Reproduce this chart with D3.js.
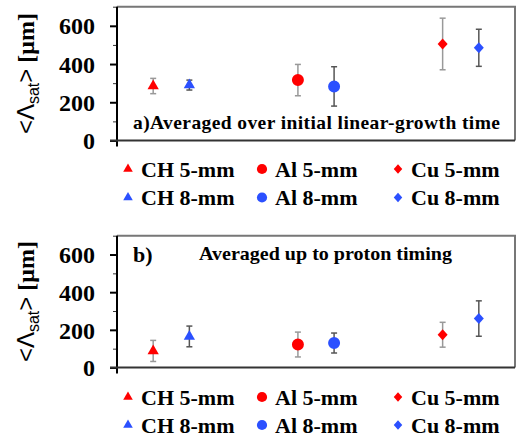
<!DOCTYPE html>
<html><head><meta charset="utf-8">
<script src="https://cdn.jsdelivr.net/npm/d3@7"></script>
<style>body{margin:0;background:#fff}svg{display:block}text{font-family:"Liberation Serif","Times New Roman",serif;font-weight:bold}</style>
</head><body>
<svg id="c" width="518" height="437"></svg>
<script>
const series = ["CH 5-mm","CH 8-mm","Al 5-mm","Al 8-mm","Cu 5-mm","Cu 8-mm"];
const xPos = [1, 2, 5, 6, 9, 10];
const shapes = ["triangle","triangle","circle","circle","diamond","diamond"];
const colors = ["#ff0000","#2b50ff","#ff0000","#2b50ff","#ff0000","#2b50ff"];
const errColors = ["#999","#555","#999","#555","#999","#555"];
const valuesA = [285, 290, 316, 283, 505, 485];
const errorsA = [40, 26, 82, 103, 135, 97];
const valuesB = [88, 165, 122, 130, 174, 260];
const errorsB = [56, 55, 66, 53, 66, 94];
const yTicks = [0, 200, 400, 600];
const legendOrder = [0, 2, 4, 1, 3, 5];

const svg = d3.select("#c");
const x = d3.scaleLinear().domain([0, 11]).range([117, 515]);

function shapePath(s, k){
  if (s === "triangle") return d3.symbol().type(d3.symbolTriangle).size(55*k*k)();
  if (s === "circle") return d3.symbol().type(d3.symbolCircle).size(113*k*k)();
  const w = 5*k, h = 5.5*k;
  return `M0,${-h}L${w},0L0,${h}L${-w},0Z`;
}

function panel(top, bottom, vals, errs, label){
  const y = d3.scaleLinear().domain([0, 700]).range([bottom, top]);
  const g = svg.append("g");
  g.append("path").attr("d", `M${x(0)},${y(700)}H${x(11)}V${y(0)}`)
    .attr("fill","none").attr("stroke","#777").attr("stroke-width",2);
  const ax = d3.axisLeft(y).tickValues(d3.range(100,701,200)).tickSize(4).tickFormat("");
  const gm = g.append("g").attr("transform",`translate(${x(0)},0)`).call(ax);
  gm.select(".domain").remove();
  gm.selectAll("line").attr("stroke","#333").attr("stroke-width",1);
  const ay = d3.axisLeft(y).tickValues(yTicks).tickSize(7).tickPadding(15).tickSizeOuter(0);
  const ga = g.append("g").attr("transform",`translate(${x(0)},0)`).call(ay);
  ga.attr("font-family",null).attr("font-size",null);
  ga.select(".domain").attr("stroke","#000").attr("stroke-width",2).attr("d", `M0,${y(700)}V${y(0)+6}`);
  ga.selectAll("line").attr("stroke","#000").attr("stroke-width",2);
  ga.selectAll("text").attr("font-size",24).attr("fill","#000").attr("dy","0.34em");
  g.append("line").attr("x1",x(0)-7).attr("x2",x(11)).attr("y1",y(0)).attr("y2",y(0)).attr("stroke","#333").attr("stroke-width",2);
  const yl = g.append("text").attr("transform",`translate(34,${(top+bottom)/2}) rotate(-90)`)
    .attr("text-anchor","middle").attr("font-size",24).attr("fill","#000");
  yl.append("tspan").text("<Λ").style("font-weight","normal").style("font-family","Liberation Sans");
  yl.append("tspan").text("sat").attr("font-size",16).attr("dy",5).style("font-weight","normal").style("font-family","Liberation Sans");
  yl.append("tspan").text(">").attr("dy",-5).style("font-weight","normal").style("font-family","Liberation Sans");
  yl.append("tspan").text(" [μm]");
  label(g, y);
  series.forEach((s,i)=>{
    const cx = x(xPos[i]);
    const eg = g.append("g").attr("stroke",errColors[i]).attr("stroke-width",1.5);
    eg.append("line").attr("x1",cx).attr("x2",cx).attr("y1",y(vals[i]-errs[i])).attr("y2",y(vals[i]+errs[i]));
    [vals[i]-errs[i], vals[i]+errs[i]].forEach(v=>{
      eg.append("line").attr("x1",cx-3).attr("x2",cx+3).attr("y1",y(v)).attr("y2",y(v));
    });
    g.append("path").attr("d", shapePath(shapes[i],1)).attr("fill",colors[i])
      .attr("transform",`translate(${cx},${y(vals[i])})`);
  });
}

function legend(y1, y2){
  const cols = [128, 262, 398];
  legendOrder.forEach((si, k)=>{
    const col = k % 3, row = Math.floor(k/3);
    const yy = row === 0 ? y1 : y2;
    svg.append("path").attr("d", shapePath(shapes[si], 0.85))
      .attr("fill", colors[si]).attr("transform",`translate(${cols[col]},${yy})`);
    svg.append("text").attr("x", cols[col]+13).attr("y", yy).attr("dy","0.35em")
      .attr("font-size",22).attr("fill","#000").text(series[si]);
  });
}

panel(6.7, 140.5, valuesA, errorsA, (g,y)=>{
  g.append("text").attr("x",133).attr("y",129).attr("font-size",19.5).attr("fill","#000")
    .attr("textLength",367).text("a)Averaged over initial linear-growth time");
});
legend(169, 197.5);
panel(235.7, 367.5, valuesB, errorsB, (g,y)=>{
  g.append("text").attr("x",133).attr("y",262).attr("font-size",22).attr("fill","#000").text("b)");
  g.append("text").attr("x",199).attr("y",259.5).attr("font-size",19).attr("fill","#000")
    .attr("textLength",253).attr("lengthAdjust","spacingAndGlyphs").text("Averaged up to proton timing");
});
legend(397, 425);
</script>
</body></html>
